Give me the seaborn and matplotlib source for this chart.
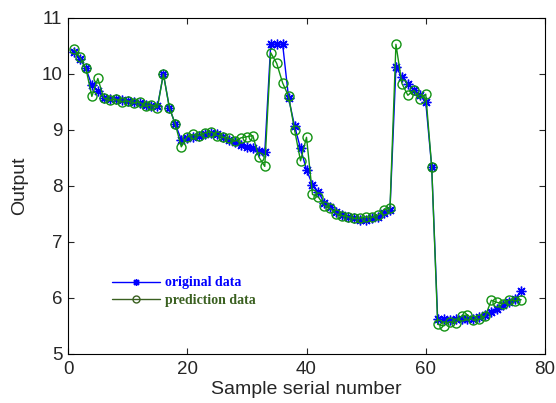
import matplotlib
matplotlib.use("Agg")
import matplotlib.pyplot as plt
import seaborn as sns
import pandas as pd
import numpy as np

sample = list(range(1, 77))
original = [10.40, 10.27, 10.10, 9.80, 9.70, 9.57, 9.55, 9.55, 9.53, 9.52,
            9.50, 9.48, 9.45, 9.43, 9.42, 10.00, 9.40, 9.10, 8.83, 8.85,
            8.88, 8.90, 8.92, 8.95, 8.93, 8.88, 8.83, 8.78, 8.73, 8.70,
            8.67, 8.63, 8.60, 10.53, 10.53, 10.53, 9.57, 9.07, 8.67, 8.29,
            8.02, 7.89, 7.70, 7.62, 7.53, 7.48, 7.44, 7.42, 7.40, 7.40,
            7.42, 7.45, 7.52, 7.57, 10.12, 9.95, 9.83, 9.71, 9.62, 9.50,
            8.34, 5.62, 5.62, 5.60, 5.62, 5.63, 5.62, 5.63, 5.66, 5.70,
            5.75, 5.80, 5.87, 5.93, 5.98, 6.13]
prediction = [10.45, 10.30, 10.10, 9.60, 9.92, 9.57, 9.53, 9.55, 9.50, 9.52,
              9.48, 9.50, 9.42, 9.45, 9.40, 10.00, 9.40, 9.10, 8.70, 8.88,
              8.92, 8.90, 8.95, 8.97, 8.90, 8.87, 8.85, 8.80, 8.86, 8.88,
              8.90, 8.52, 8.35, 10.38, 10.19, 9.84, 9.60, 9.00, 8.45, 8.87,
              7.85, 7.80, 7.65, 7.60, 7.50, 7.47, 7.45, 7.42, 7.43, 7.45,
              7.44, 7.48, 7.58, 7.60, 10.53, 9.83, 9.62, 9.71, 9.56, 9.64,
              8.34, 5.53, 5.50, 5.58, 5.55, 5.68, 5.70, 5.60, 5.62, 5.68,
              5.96, 5.92, 5.90, 5.97, 5.95, 5.97]
xticks = [0, 20, 40, 60, 80]
yticks = [5, 6, 7, 8, 9, 10, 11]

df = pd.DataFrame({"x": sample, "original": original, "prediction": prediction})

sns.set_style("white")
plt.rcParams['font.family'] = ['Liberation Sans', 'DejaVu Sans']

fig = plt.figure(figsize=(5.56, 4.03), dpi=100)
ax = fig.add_axes([68/556, 1-354/403, (545-68)/556, (354-18)/403])

blue = "#0000ff"
green = "#129212"
asterisk = (8, 2, 0)
sns.lineplot(data=df, x="x", y="original", ax=ax, color=blue, lw=1.0,
             marker=asterisk, markersize=7, markeredgecolor=blue,
             markeredgewidth=1.0, label="original data")
sns.lineplot(data=df, x="x", y="prediction", ax=ax, color=green, lw=1.0,
             marker="o", markersize=6.5, markeredgecolor=green, markerfacecolor="none",
             markeredgewidth=1.0, label="prediction data")

ax.set_xlim(0, 80)
ax.set_ylim(5, 11)
ax.set_xticks(xticks)
ax.set_yticks(yticks)
ax.tick_params(direction="in", length=4, width=0.8, labelsize=13.5,
               top=True, right=True, bottom=True, left=True)
ax.tick_params(axis="x", pad=5)
ax.tick_params(axis="y", pad=4)
for s in ax.spines.values():
    s.set_visible(True)
    s.set_color("black")
    s.set_linewidth(0.8)
ax.set_xlabel("Sample serial number", fontsize=14, labelpad=2)
ax.set_ylabel("Output", fontsize=14, labelpad=10)

leg = ax.legend(loc="center left", bbox_to_anchor=(0.092, 0.185), frameon=False,
                borderpad=0, borderaxespad=0, handlelength=3.5, handletextpad=0.3,
                labelspacing=0.35, prop={"family": "Liberation Serif", "weight": "bold", "size": 10})
leg.get_texts()[0].set_color(blue)
leg.get_texts()[1].set_color("#3a6020")
for h in leg.legend_handles:
    h.set_markersize(5)
leg.legend_handles[1].set_color("#3a6020")
leg.legend_handles[1].set_markeredgecolor("#3a6020")

fig.savefig("out.png", dpi=100)
